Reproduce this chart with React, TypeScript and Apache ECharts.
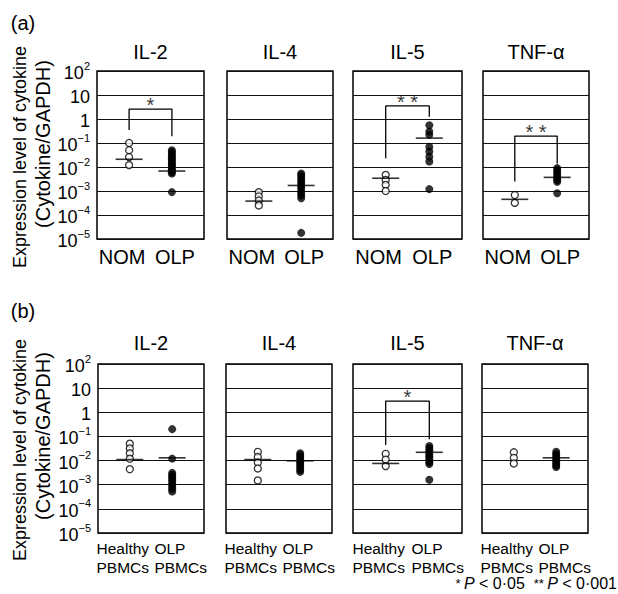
import React, { useEffect, useRef } from 'react';
import * as echarts from 'echarts';

const cytokines = ['IL-2', 'IL-4', 'IL-5', 'TNF-α'];
const groupsA = ['NOM', 'OLP'];
const groupsB = [['Healthy', 'PBMCs'], ['OLP', 'PBMCs']];

// (a) tissue samples
const aIL2Nom = [0.1, 0.05, 0.026, 0.012];
const aIL2Olp = [0.05, 0.042, 0.035, 0.03, 0.025, 0.021, 0.018, 0.015, 0.013, 0.011, 0.0095, 0.008, 0.007, 0.006, 0.0054, 0.0009];
const aIL4Nom = [0.0009, 0.0006, 0.0004, 0.00025];
const aIL4Olp = [0.0054, 0.0045, 0.0037, 0.003, 0.0025, 0.002, 0.0016, 0.0013, 0.001, 0.0008, 0.00065, 0.0005, 0.000018];
const aIL5Nom = [0.0047, 0.0029, 0.0018, 0.001];
const aIL5Olp = [0.55, 0.3, 0.22, 0.07, 0.044, 0.027, 0.017, 0.0012];
const aTNFNom = [0.00068, 0.00032];
const aTNFOlp = [0.009, 0.0075, 0.006, 0.005, 0.004, 0.0033, 0.0028, 0.0024, 0.0008];
const aMeans = [[0.021, 0.0068], [0.00038, 0.0017], [0.0034, 0.16], [0.00045, 0.0037]];

// (b) PBMCs
const bIL2Healthy = [0.05, 0.032, 0.02, 0.012, 0.0044];
const bIL2Olp = [0.2, 0.012, 0.0031, 0.0026, 0.0022, 0.0018, 0.0015, 0.0012, 0.001, 0.0008, 0.00065, 0.00052];
const bIL4Healthy = [0.023, 0.014, 0.0083, 0.0047, 0.0015];
const bIL4Olp = [0.02, 0.017, 0.014, 0.012, 0.01, 0.0085, 0.0072, 0.006, 0.005, 0.0041, 0.0034];
const bIL5Healthy = [0.019, 0.011, 0.0059];
const bIL5Olp = [0.04, 0.033, 0.027, 0.022, 0.018, 0.015, 0.012, 0.01, 0.0085, 0.0072, 0.0016];
const bTNFHealthy = [0.022, 0.013, 0.0076];
const bTNFOlp = [0.023, 0.019, 0.016, 0.013, 0.011, 0.009, 0.0075, 0.0063, 0.0054];
const bMeans = [[0.011, 0.013], [0.011, 0.0098], [0.0076, 0.022], [null, 0.013]];

// significance brackets: panel, left leg bottom, top, right leg bottom, mark
const brackets = [
  { panel: 0, left: 0.35, top: 2.6, right: 0.19, mark: '*' },
  { panel: 2, left: 0.023, top: 3.5, right: 1.25, mark: '* *' },
  { panel: 3, left: 0.0025, top: 0.195, right: 0.014, mark: '* *' },
  { panel: 6, left: 0.044, top: 2.9, right: 0.076, mark: '*' },
];

const yMin = 1e-5;
const yMax = 100;

const controlSets = [aIL2Nom, aIL4Nom, aIL5Nom, aTNFNom, bIL2Healthy, bIL4Healthy, bIL5Healthy, bTNFHealthy];
const patientSets = [aIL2Olp, aIL4Olp, aIL5Olp, aTNFOlp, bIL2Olp, bIL4Olp, bIL5Olp, bTNFOlp];
const meanSets = [...aMeans, ...bMeans];

const FONT = 'Liberation Sans, Arial, Helvetica, sans-serif';
const rowTop = [71, 364];
const rowHeight = [168, 169];
const lefts = [[97, 227, 353, 483], [98, 226, 353, 482]];
const widths = [[107, 106, 109, 106], [106, 106, 109, 106]];

const txt = (size: number, extra: any = {}) => ({ fontSize: size, fontFamily: FONT, color: '#000', ...extra });

function buildOption() {
  const grid: any[] = [];
  const xAxis: any[] = [];
  const yAxis: any[] = [];
  const series: any[] = [];
  const graphic: any[] = [];

  for (let p = 0; p < 8; p++) {
    const row = p < 4 ? 0 : 1;
    const col = p % 4;
    grid.push({
      left: lefts[row][col], top: rowTop[row], width: widths[row][col], height: rowHeight[row],
      show: true, borderColor: '#000', borderWidth: 1.5, backgroundColor: 'transparent',
      outerBoundsMode: 'none',
    });
    // one x axis per group so that each label is laid out on its own
    for (let g = 0; g < 2; g++) {
      xAxis.push({
        type: 'value', gridIndex: p, min: -0.75, max: 1.75, position: 'bottom',
        splitLine: { show: false }, axisTick: { show: false }, axisLine: { show: false },
        axisLabel: {
          customValues: [g],
          formatter: (v: number) => {
            const i = Math.round(v);
            if (row === 0) return i === 0 ? `{g0|${groupsA[0]}}` : `{g1|${groupsA[1]}}`;
            const t = groupsB[i];
            return i === 0 ? `{h0|${t[0]}}\n{h0|${t[1]}}` : `{h1|${t[0]}}\n{h1|${t[1]}}`;
          },
          margin: row === 0 ? 8 : 6,
          ...txt(row === 0 ? 20 : 15.5),
          rich: {
            g0: txt(20, { padding: [0, 14, 0, 0] }),
            g1: txt(20, { padding: [0, 0, 0, 6] }),
            h0: txt(15.5, { lineHeight: 19, align: 'left', padding: [0, 14, 0, 0] }),
            h1: txt(15.5, { lineHeight: 19, align: 'left', padding: [0, 0, 0, 17] }),
          },
        },
      });
    }
    yAxis.push({
      type: 'log', logBase: 10, gridIndex: p, min: yMin, max: yMax, splitNumber: 7,
      axisLine: { show: false }, axisTick: { show: false },
      splitLine: { show: true, lineStyle: { color: '#111', width: 1 } },
      axisLabel: {
        show: col === 0,
        margin: 7,
        formatter: (v: number) => {
          const e = Math.round(Math.log10(v));
          if (e === 0) return '{b|1}';
          if (e === 1) return '{b|10}';
          return `{b|10}{s|${e < 0 ? '−' : ''}${Math.abs(e)}}`;
        },
        rich: {
          b: txt(18, { lineHeight: 22, verticalAlign: 'bottom' }),
          s: txt(11, { lineHeight: 11, verticalAlign: 'top' }),
        },
      },
    });

    const xi = 2 * p;
    series.push({
      type: 'scatter', xAxisIndex: xi, yAxisIndex: p, symbol: 'circle', symbolSize: 7,
      itemStyle: { color: '#fff', borderColor: '#000', borderWidth: 1.3 },
      data: controlSets[p].map((v) => [0, v]), z: 3,
    });
    series.push({
      type: 'scatter', xAxisIndex: xi, yAxisIndex: p, symbol: 'circle', symbolSize: 8,
      itemStyle: { color: '#000' },
      data: patientSets[p].map((v) => [1, v]), z: 3,
    });
    const m = meanSets[p];
    series.push({
      type: 'scatter', xAxisIndex: xi, yAxisIndex: p, symbol: 'rect', symbolSize: [27, 1.6],
      itemStyle: { color: '#000' },
      data: m.map((v, i) => (v == null ? null : [i, v])).filter((d) => d != null), z: 4,
    });

    graphic.push({
      type: 'text', x: lefts[row][col] + widths[row][col] / 2, y: row === 0 ? 52 : 343,
      style: { text: cytokines[col], fontSize: 20, fontFamily: FONT, fill: '#000', align: 'center', verticalAlign: 'middle' },
    });
  }

  brackets.forEach((b) => {
    series.push({
      type: 'line', xAxisIndex: 2 * b.panel, yAxisIndex: b.panel, symbol: 'none',
      lineStyle: { color: '#000', width: 1.3 }, z: 2,
      data: [[0, b.left], [0, b.top], [1, b.top], [1, b.right]],
    });
    series.push({
      type: 'scatter', xAxisIndex: 2 * b.panel, yAxisIndex: b.panel, symbolSize: 0,
      label: { show: true, position: 'inside', offset: [0, -4], formatter: b.mark, ...txt(20) },
      data: [[0.5, b.top]], z: 5,
    });
  });

  graphic.push({ type: 'text', x: 23, y: 23, style: { text: '(a)', fontSize: 20, fontFamily: FONT, fill: '#000', align: 'center', verticalAlign: 'middle' } });
  graphic.push({ type: 'text', x: 23, y: 311, style: { text: '(b)', fontSize: 20, fontFamily: FONT, fill: '#000', align: 'center', verticalAlign: 'middle' } });

  const yc = [[157, 144], [450, 436]];
  for (let r = 0; r < 2; r++) {
    graphic.push({ type: 'text', x: 20, y: yc[r][0], rotation: Math.PI / 2,
      style: { text: 'Expression level of cytokine', fontSize: 18, fontFamily: FONT, fill: '#000', align: 'center', verticalAlign: 'middle' } });
    graphic.push({ type: 'text', x: 43, y: yc[r][1], rotation: Math.PI / 2,
      style: { text: '(Cytokine/GAPDH)', fontSize: 20, fontFamily: FONT, fill: '#000', align: 'center', verticalAlign: 'middle' } });
  }

  graphic.push({
    type: 'text', x: 617, y: 583,
    style: {
      text: '{st|*} {i|P}{n| < 0·05  }{st|**} {i|P}{n| < 0·001}',
      align: 'right', verticalAlign: 'middle',
      rich: {
        n: { fontSize: 16, fontFamily: FONT, fill: '#000' },
        i: { fontSize: 16, fontFamily: FONT, fontStyle: 'italic', fill: '#000' },
        st: { fontSize: 13, fontFamily: FONT, fill: '#000' },
      },
    },
  });

  return { animation: false, backgroundColor: '#fff', grid, xAxis, yAxis, series, graphic };
}

export default function App() {
  const ref = useRef<HTMLDivElement>(null);
  useEffect(() => {
    if (!ref.current) return;
    const chart = echarts.init(ref.current, null, { renderer: 'svg' });
    chart.setOption(buildOption() as any);
    return () => chart.dispose();
  }, []);
  return <div ref={ref} style={{ position: 'absolute', left: 0, top: 0, width: 618, height: 594 }} />;
}
